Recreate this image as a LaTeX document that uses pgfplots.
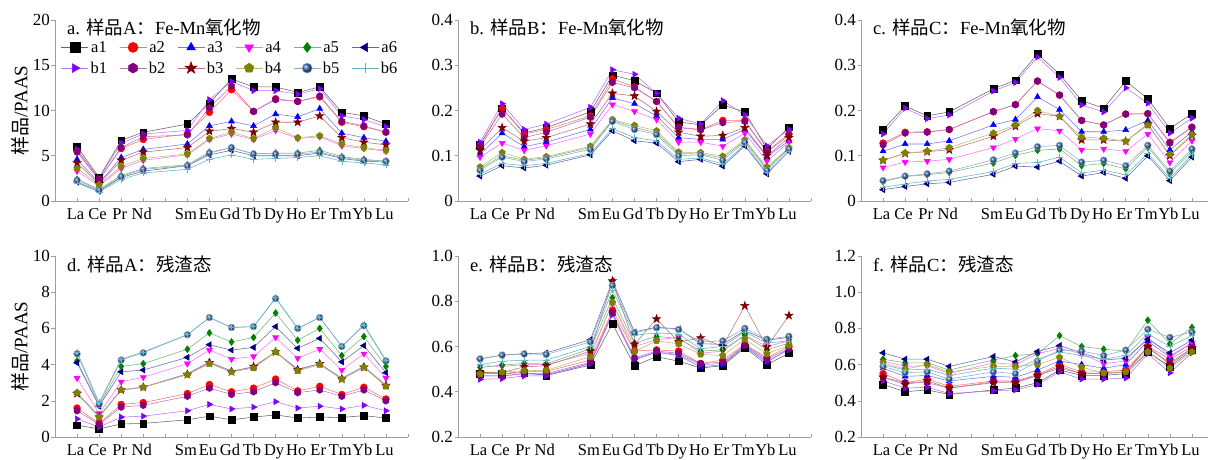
\documentclass[border=0pt]{standalone}
\usepackage{fontspec}
\setmainfont{Liberation Serif}
\newfontfamily\cjk{Noto Sans CJK SC}
\usepackage{pgfplots}
\usepackage{pgfplotstable}
\pgfplotsset{compat=1.18}
\usetikzlibrary{plotmarks}
\newcommand{\zh}[1]{{\cjk #1}}

\definecolor{cA1}{RGB}{0,0,0}
\definecolor{cA2}{RGB}{255,0,0}
\definecolor{cA3}{RGB}{0,0,255}
\definecolor{cA4}{RGB}{255,0,255}
\definecolor{cA5}{RGB}{0,128,0}
\definecolor{cA6}{RGB}{0,0,128}
\definecolor{cB1}{RGB}{128,0,255}
\definecolor{cB2}{RGB}{128,0,128}
\definecolor{cB3}{RGB}{128,0,0}
\definecolor{cB4}{RGB}{128,128,0}
\definecolor{cB5}{RGB}{50,100,160}
\definecolor{cB6}{RGB}{100,180,190}

\pgfdeclareplotmark{hexagon*}{%
  \pgfpathmoveto{\pgfpointpolar{90}{\pgfplotmarksize}}%
  \pgfpathlineto{\pgfpointpolar{150}{\pgfplotmarksize}}%
  \pgfpathlineto{\pgfpointpolar{210}{\pgfplotmarksize}}%
  \pgfpathlineto{\pgfpointpolar{270}{\pgfplotmarksize}}%
  \pgfpathlineto{\pgfpointpolar{330}{\pgfplotmarksize}}%
  \pgfpathlineto{\pgfpointpolar{30}{\pgfplotmarksize}}%
  \pgfpathclose\pgfusepathqfillstroke}
\pgfdeclareplotmark{fstar}{%
  \pgfpathmoveto{\pgfpointpolar{90}{1.25*\pgfplotmarksize}}%
  \pgfpathlineto{\pgfpointpolar{126}{0.5*\pgfplotmarksize}}%
  \pgfpathlineto{\pgfpointpolar{162}{1.25*\pgfplotmarksize}}%
  \pgfpathlineto{\pgfpointpolar{198}{0.5*\pgfplotmarksize}}%
  \pgfpathlineto{\pgfpointpolar{234}{1.25*\pgfplotmarksize}}%
  \pgfpathlineto{\pgfpointpolar{270}{0.5*\pgfplotmarksize}}%
  \pgfpathlineto{\pgfpointpolar{306}{1.25*\pgfplotmarksize}}%
  \pgfpathlineto{\pgfpointpolar{342}{0.5*\pgfplotmarksize}}%
  \pgfpathlineto{\pgfpointpolar{18}{1.25*\pgfplotmarksize}}%
  \pgfpathlineto{\pgfpointpolar{54}{0.5*\pgfplotmarksize}}%
  \pgfpathclose\pgfusepathqfillstroke}

\pgfplotsset{
  sa1/.style={color=cA1!60!white, mark=square*, mark options={solid,fill=cA1,draw=cA1}},
  sa2/.style={color=cA2!55!white, mark=*, mark options={solid,fill=cA2,draw=cA2}},
  sa3/.style={color=cA3!55!white, mark=triangle*, mark options={solid,fill=cA3,draw=cA3}},
  sa4/.style={color=cA4!55!white, mark=triangle*, mark options={solid,fill=cA4,draw=cA4,rotate=180}},
  sa5/.style={color=cA5!55!white, mark=diamond*, mark options={solid,fill=cA5,draw=cA5}},
  sa6/.style={color=cA6!60!white, mark=triangle*, mark options={solid,fill=cA6,draw=cA6,rotate=90}},
  sb1/.style={color=cB1!55!white, mark=triangle*, mark options={solid,fill=cB1,draw=cB1,rotate=-90}},
  sb2/.style={color=cB2!55!white, mark=hexagon*, mark options={solid,fill=cB2,draw=cB2}},
  sb3/.style={color=cB3!55!white, mark=fstar, mark options={solid,fill=cB3,draw=cB3}},
  sb4/.style={color=cB4!55!white, mark=pentagon*, mark options={solid,fill=cB4,draw=cB4}},
  sb5/.style={color=cB5!55!white, mark=ball, mark options={solid,ball color=cB5}},
  sb6/.style={color=cB6, mark=+, mark options={solid,draw=cB6}},
  panel/.style={
    scale only axis, width=353pt, height=181pt,
    xmin=0, xmax=16,
    axis x line=bottom, axis y line=left,
    axis line style={-, draw=gray!75, line width=0.6pt},
    xtick={1,...,16},
    xticklabels={La,Ce,Pr,Nd,{},Sm,Eu,Gd,Tb,Dy,Ho,Er,Tm,Yb,Lu,{}},
    xtick align=inside, ytick align=outside,
    major tick length=3.5pt,
    tick style={draw=gray!75, line width=0.6pt},
    xticklabel style={font=\fontsize{16.5}{16.5}\selectfont, xshift=-1.5pt, inner sep=2pt, yshift=-5pt},
    yticklabel style={font=\fontsize{17}{17}\selectfont, inner xsep=1.5pt},
    /pgf/number format/assume math mode=true,
    every axis y label/.style={at={(axis description cs:-0.099,0.5)}, rotate=90, anchor=center, font=\fontsize{19}{19}\selectfont},
    mark size=3.4pt,
    every axis plot/.append style={line width=0.55pt},
    clip=false,
  },
}
\newcommand{\ttl}[1]{\node[anchor=base west, font=\fontsize{18.5}{18.5}\selectfont, inner sep=0pt] at ([xshift=12pt,yshift=-15pt]rel axis cs:0,1) {#1};}
\newcommand{\allplots}[1]{%
  \addplot[sa1] table[x=x,y=a1]{#1};
  \addplot[sa2] table[x=x,y=a2]{#1};
  \addplot[sa3] table[x=x,y=a3]{#1};
  \addplot[sa4] table[x=x,y=a4]{#1};
  \addplot[sa5] table[x=x,y=a5]{#1};
  \addplot[sa6] table[x=x,y=a6]{#1};
  \addplot[sb1] table[x=x,y=b1]{#1};
  \addplot[sb2] table[x=x,y=b2]{#1};
  \addplot[sb3] table[x=x,y=b3]{#1};
  \addplot[sb4] table[x=x,y=b4]{#1};
  \addplot[sb5] table[x=x,y=b5]{#1};
  \addplot[sb6] table[x=x,y=b6]{#1};
}

\pgfplotstableread{
x a1 a2 a3 a4 a5 a6 b1 b2 b3 b4 b5 b6
1 6.0 5.5 4.6 3.3 2.4 2.1 5.7 5.4 4.2 3.6 2.3 2.0
2 2.6 2.4 2.0 1.7 1.3 1.1 2.5 2.3 1.9 1.8 1.2 1.0
3 6.7 5.8 4.8 3.6 2.8 2.6 6.4 5.9 4.5 3.8 2.7 2.4
4 7.6 6.8 5.7 4.5 3.6 3.3 7.4 7.1 5.4 4.7 3.5 3.1
6 8.5 7.4 6.3 5.1 4.0 3.9 7.8 7.3 5.9 5.2 3.9 3.5
7 10.8 9.8 8.3 6.8 5.4 5.1 11.2 10.3 7.7 6.9 5.3 4.6
8 13.5 12.3 8.8 7.4 5.9 5.6 13.2 12.7 8.0 7.6 5.9 5.1
9 12.6 9.9 8.3 6.8 5.2 5.0 12.2 9.9 7.6 6.9 5.2 4.6
10 12.6 11.3 9.6 7.8 5.3 5.0 12.2 11.2 8.7 8.1 5.2 4.7
11 12.0 11.0 9.3 6.9 5.3 5.0 11.8 11.0 8.7 7.0 5.2 4.8
12 12.6 11.5 10.2 7.1 5.6 5.3 12.4 11.6 9.4 7.2 5.4 5.0
13 9.8 8.7 7.5 6.1 4.9 4.7 9.4 8.8 7.0 6.3 4.8 4.4
14 9.4 8.2 7.0 5.8 4.6 4.4 9.0 8.3 6.5 5.9 4.5 4.2
15 8.5 7.6 6.6 5.5 4.4 4.3 8.2 7.6 6.2 5.6 4.4 4.0
}\tA
\pgfplotstableread{
x a1 a2 a3 a4 a5 a6 b1 b2 b3 b4 b5 b6
1 0.125 0.122 0.103 0.097 0.072 0.055 0.130 0.120 0.112 0.075 0.068 0.060
2 0.205 0.205 0.150 0.128 0.100 0.078 0.215 0.192 0.162 0.107 0.097 0.083
3 0.150 0.148 0.120 0.112 0.090 0.073 0.158 0.140 0.132 0.092 0.087 0.078
4 0.162 0.158 0.130 0.122 0.096 0.079 0.170 0.152 0.140 0.098 0.093 0.083
6 0.197 0.188 0.158 0.148 0.118 0.102 0.207 0.185 0.170 0.121 0.114 0.105
7 0.278 0.270 0.228 0.213 0.178 0.155 0.290 0.262 0.238 0.180 0.176 0.160
8 0.266 0.252 0.215 0.198 0.163 0.133 0.280 0.250 0.232 0.167 0.158 0.140
9 0.238 0.220 0.188 0.180 0.150 0.128 0.238 0.220 0.198 0.155 0.147 0.133
10 0.175 0.163 0.140 0.130 0.105 0.087 0.183 0.162 0.152 0.108 0.100 0.092
11 0.168 0.158 0.136 0.130 0.104 0.092 0.170 0.157 0.143 0.107 0.102 0.095
12 0.212 0.178 0.136 0.121 0.095 0.077 0.222 0.173 0.145 0.099 0.090 0.082
13 0.197 0.178 0.158 0.150 0.133 0.122 0.190 0.176 0.162 0.135 0.130 0.124
14 0.115 0.110 0.098 0.088 0.072 0.060 0.122 0.108 0.100 0.075 0.068 0.063
15 0.163 0.148 0.133 0.130 0.116 0.110 0.158 0.145 0.140 0.118 0.115 0.110
}\tB
\pgfplotstableread{
x a1 a2 a3 a4 a5 a6 b1 b2 b3 b4 b5 b6
1 0.157 0.128 0.110 0.074 0.043 0.025 0.148 0.124 0.090 0.090 0.045 0.030
2 0.210 0.152 0.126 0.086 0.054 0.032 0.205 0.150 0.105 0.106 0.055 0.038
3 0.188 0.153 0.126 0.088 0.058 0.038 0.182 0.152 0.109 0.110 0.060 0.044
4 0.197 0.158 0.133 0.092 0.063 0.041 0.190 0.158 0.113 0.118 0.066 0.048
6 0.248 0.197 0.168 0.118 0.084 0.059 0.243 0.198 0.143 0.150 0.091 0.065
7 0.267 0.213 0.180 0.137 0.101 0.077 0.262 0.213 0.165 0.168 0.106 0.083
8 0.325 0.265 0.230 0.160 0.112 0.075 0.318 0.265 0.193 0.200 0.120 0.085
9 0.280 0.234 0.202 0.155 0.115 0.088 0.273 0.234 0.187 0.187 0.123 0.097
10 0.222 0.178 0.153 0.113 0.078 0.055 0.212 0.178 0.135 0.141 0.086 0.062
11 0.205 0.168 0.153 0.115 0.083 0.063 0.197 0.168 0.135 0.139 0.090 0.068
12 0.265 0.192 0.157 0.110 0.071 0.050 0.250 0.192 0.132 0.132 0.078 0.058
13 0.226 0.193 0.178 0.148 0.119 0.100 0.216 0.193 0.170 0.167 0.123 0.105
14 0.160 0.130 0.113 0.085 0.061 0.045 0.150 0.128 0.100 0.103 0.066 0.050
15 0.193 0.163 0.153 0.133 0.110 0.097 0.183 0.163 0.145 0.147 0.115 0.103
}\tC
\pgfplotstableread{
x a1 a2 a3 a4 a5 a6 b1 b2 b3 b4 b5 b6
1 0.65 1.6 2.45 3.25 4.2 4.1 1.0 1.45 2.4 2.45 4.6 4.7
2 0.45 0.75 1.15 1.3 1.75 1.7 0.55 0.7 1.1 1.1 1.8 1.9
3 0.72 1.8 2.6 3.05 3.9 3.6 1.1 1.65 2.6 2.6 4.25 4.3
4 0.75 1.9 2.75 3.3 4.05 3.7 1.15 1.75 2.75 2.75 4.65 4.7
6 0.95 2.4 3.5 4.05 4.85 4.4 1.45 2.25 3.45 3.45 5.65 5.65
7 1.15 2.9 4.15 4.8 5.75 5.1 1.8 2.7 4.1 4.05 6.6 6.6
8 0.95 2.5 3.65 4.3 5.25 4.8 1.55 2.35 3.6 3.6 6.05 6.05
9 1.10 2.7 3.85 4.45 5.5 4.95 1.65 2.5 3.9 3.8 6.1 6.1
10 1.22 3.2 4.7 5.5 6.85 6.1 1.95 3.0 4.7 4.7 7.65 7.7
11 1.05 2.55 3.75 4.35 5.35 4.9 1.6 2.45 3.7 3.65 6.0 6.0
12 1.10 2.8 4.05 4.85 6.0 5.45 1.7 2.6 4.05 4.0 6.6 6.6
13 1.08 2.35 3.25 3.7 4.5 4.15 1.55 2.25 3.2 3.2 5.0 5.0
14 1.18 2.75 3.9 4.6 5.55 5.05 1.75 2.6 3.85 3.85 6.15 6.2
15 1.05 2.1 2.85 3.25 3.9 3.55 1.45 2.0 2.85 2.8 4.2 4.25
}\tD
\pgfplotstableread{
x a1 a2 a3 a4 a5 a6 b1 b2 b3 b4 b5 b6
1 0.480 0.480 0.470 0.515 0.507 0.545 0.455 0.470 0.485 0.478 0.545 0.520
2 0.480 0.480 0.470 0.512 0.518 0.562 0.458 0.470 0.485 0.487 0.562 0.535
3 0.485 0.490 0.480 0.520 0.525 0.568 0.470 0.480 0.510 0.493 0.567 0.540
4 0.472 0.490 0.475 0.520 0.523 0.572 0.470 0.480 0.515 0.495 0.565 0.540
6 0.518 0.540 0.525 0.570 0.590 0.630 0.525 0.530 0.580 0.555 0.620 0.600
7 0.700 0.760 0.745 0.790 0.815 0.890 0.740 0.750 0.890 0.795 0.870 0.850
8 0.515 0.580 0.540 0.600 0.615 0.665 0.545 0.550 0.610 0.578 0.660 0.650
9 0.555 0.585 0.575 0.630 0.645 0.685 0.575 0.580 0.722 0.625 0.683 0.660
10 0.535 0.580 0.560 0.640 0.635 0.678 0.565 0.570 0.620 0.612 0.675 0.655
11 0.505 0.525 0.510 0.570 0.580 0.612 0.520 0.525 0.638 0.565 0.620 0.590
12 0.515 0.540 0.520 0.580 0.585 0.610 0.525 0.530 0.600 0.560 0.625 0.600
13 0.595 0.610 0.600 0.650 0.650 0.670 0.605 0.605 0.780 0.632 0.680 0.665
14 0.520 0.550 0.530 0.600 0.585 0.628 0.535 0.545 0.598 0.568 0.632 0.615
15 0.570 0.600 0.590 0.625 0.615 0.640 0.585 0.590 0.737 0.605 0.645 0.625
}\tE
\pgfplotstableread{
x a1 a2 a3 a4 a5 a6 b1 b2 b3 b4 b5 b6
1 0.490 0.550 0.580 0.620 0.630 0.665 0.510 0.530 0.530 0.610 0.590 0.600
2 0.450 0.500 0.535 0.590 0.610 0.630 0.470 0.500 0.490 0.575 0.555 0.570
3 0.460 0.520 0.540 0.595 0.610 0.630 0.475 0.500 0.510 0.600 0.560 0.575
4 0.435 0.480 0.510 0.550 0.570 0.590 0.440 0.470 0.470 0.560 0.520 0.540
6 0.460 0.510 0.535 0.610 0.625 0.645 0.455 0.505 0.500 0.590 0.560 0.580
7 0.470 0.510 0.530 0.600 0.650 0.615 0.460 0.505 0.500 0.590 0.550 0.575
8 0.500 0.545 0.570 0.660 0.660 0.672 0.490 0.540 0.540 0.600 0.620 0.630
9 0.570 0.600 0.620 0.690 0.760 0.705 0.560 0.580 0.590 0.640 0.680 0.670
10 0.540 0.560 0.600 0.660 0.700 0.665 0.520 0.550 0.550 0.585 0.675 0.650
11 0.540 0.560 0.580 0.605 0.685 0.625 0.520 0.550 0.550 0.555 0.650 0.630
12 0.550 0.570 0.600 0.620 0.675 0.635 0.525 0.560 0.560 0.560 0.680 0.650
13 0.670 0.700 0.730 0.750 0.845 0.740 0.660 0.690 0.700 0.670 0.795 0.770
14 0.590 0.630 0.640 0.650 0.715 0.665 0.555 0.610 0.600 0.580 0.750 0.700
15 0.680 0.700 0.720 0.720 0.805 0.735 0.665 0.690 0.690 0.670 0.780 0.760
}\tF

\begin{document}
\begin{tikzpicture}
% panel a
\begin{axis}[panel, at={(55pt,258pt)}, anchor=south west,
  ymin=0, ymax=20, ytick={0,5,10,15,20},
  ylabel={\zh{样品}/PAAS},
  legend columns=6,
  legend image code/.code={\draw[#1] (0pt,0pt) -- (27pt,0pt); \draw[#1, mark size=5pt] plot coordinates {(13.5pt,0pt)};},
  legend style={at={(rel axis cs:0,1)}, anchor=north west, xshift=6pt, yshift=-19pt,
    draw=none, fill=none, inner sep=0pt, row sep=4pt,
    font=\fontsize{16.5}{16.5}\selectfont,
    nodes={inner sep=2pt},
    /tikz/every even column/.append style={column sep=10pt}},
]
\allplots{\tA}
\legend{a1,a2,a3,a4,a5,a6,b1,b2,b3,b4,b5,b6}
\ttl{a. \zh{样品}A\zh{：}Fe-Mn\zh{氧化物}}
\end{axis}
% panel b
\begin{axis}[panel, at={(458pt,258pt)}, anchor=south west,
  ymin=0, ymax=0.4, ytick={0,0.1,0.2,0.3,0.4}, yticklabels={0,0.1,0.2,0.3,0.4}]
\allplots{\tB}
\ttl{b. \zh{样品}B\zh{：}Fe-Mn\zh{氧化物}}
\end{axis}
% panel c
\begin{axis}[panel, at={(861pt,258pt)}, anchor=south west,
  ymin=0, ymax=0.4, ytick={0,0.1,0.2,0.3,0.4}, yticklabels={0,0.1,0.2,0.3,0.4}]
\allplots{\tC}
\ttl{c. \zh{样品}C\zh{：}Fe-Mn\zh{氧化物}}
\end{axis}
% panel d
\begin{axis}[panel, at={(55pt,22pt)}, anchor=south west,
  ymin=0, ymax=10, ytick={0,2,4,6,8,10},
  ylabel={\zh{样品}/PAAS}]
\allplots{\tD}
\ttl{d. \zh{样品}A\zh{：残渣态}}
\end{axis}
% panel e
\begin{axis}[panel, at={(458pt,22pt)}, anchor=south west,
  ymin=0.2, ymax=1.0, ytick={0.2,0.4,0.6,0.8,1.0}, yticklabels={0.2,0.4,0.6,0.8,1.0}]
\allplots{\tE}
\ttl{e. \zh{样品}B\zh{：残渣态}}
\end{axis}
% panel f
\begin{axis}[panel, at={(861pt,22pt)}, anchor=south west,
  ymin=0.2, ymax=1.2, ytick={0.2,0.4,0.6,0.8,1.0,1.2}, yticklabels={0.2,0.4,0.6,0.8,1.0,1.2}]
\allplots{\tF}
\ttl{f. \zh{样品}C\zh{：残渣态}}
\end{axis}
\pgfresetboundingbox
\useasboundingbox (0pt,0pt) rectangle (1208pt,459pt);
\end{tikzpicture}
\end{document}
